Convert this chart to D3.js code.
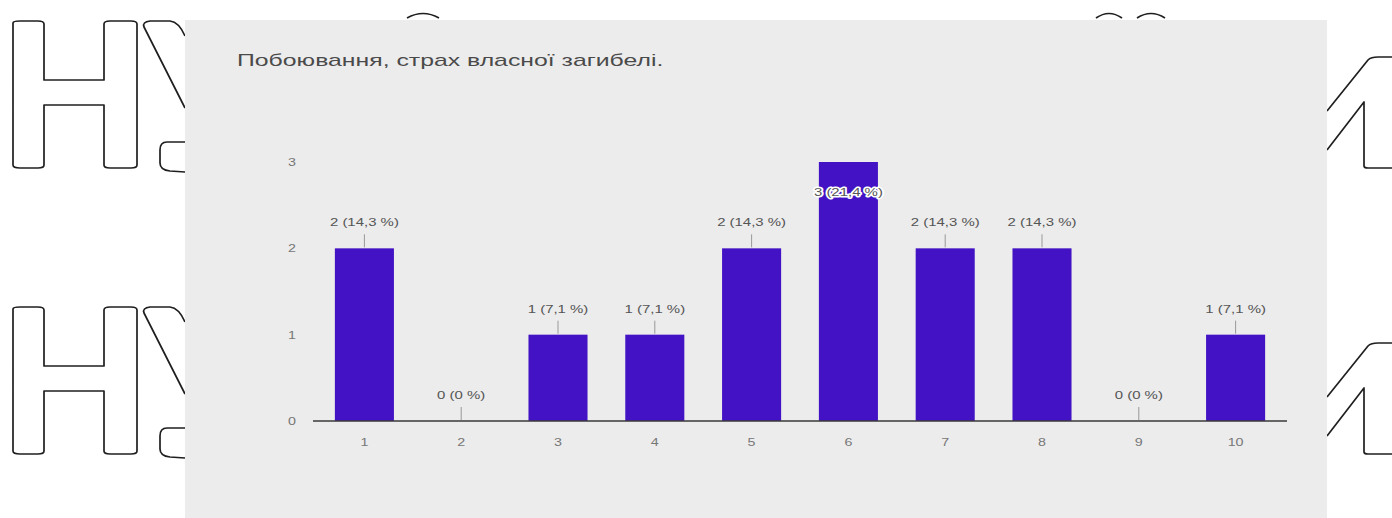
<!DOCTYPE html>
<html>
<head>
<meta charset="utf-8">
<script src="https://cdn.jsdelivr.net/npm/d3@7"></script>
<style>
  html, body { margin: 0; padding: 0; background: #ffffff; }
  svg { display: block; }
  text { font-family: "Liberation Sans", Arial, sans-serif; }
</style>
</head>
<body>
<svg id="chart" width="1392" height="518"></svg>
<script>
// Survey answers on a 1–10 scale
const categories = ["1", "2", "3", "4", "5", "6", "7", "8", "9", "10"];
const counts = [2, 0, 1, 1, 2, 3, 2, 2, 0, 1];
const yTicks = [0, 1, 2, 3];
const title = "Побоювання, страх власної загибелі.";

const W = 1392, H = 518;
const svg = d3.select("#chart");

// Outlined watermark letters behind the card
const wm = svg.append("g")
  .attr("fill", "none")
  .attr("stroke", "#1f1f1f")
  .attr("stroke-width", 1.7)
  .attr("stroke-linejoin", "round");

function letterH(dy) {
  return `M13,${23 + dy} Q13,${21 + dy} 20,${21 + dy} L38,${21 + dy} Q44,${21 + dy} 44,${24 + dy} L44,${80 + dy} L104,${80 + dy} L104,${24 + dy} Q104,${21 + dy} 110,${21 + dy} L131,${21 + dy} Q137,${21 + dy} 137,${24 + dy} L137,${165 + dy} Q137,${168 + dy} 131,${168 + dy} L110,${168 + dy} Q104,${168 + dy} 104,${165 + dy} L104,${105 + dy} L44,${105 + dy} L44,${165 + dy} Q44,${168 + dy} 38,${168 + dy} L20,${168 + dy} Q13,${168 + dy} 13,${165 + dy} Z`;
}
function letterU(dy) {
  return `M185,${108 + dy} L144,${27 + dy} Q142,${22 + dy} 150,${21 + dy} L170,${21 + dy} Q179,${22 + dy} 185,${36 + dy}`;
}
function letterHook(dy) {
  return `M185,${142 + dy} L167,${142 + dy} Q160,${142 + dy} 160,${150 + dy} L160,${163 + dy} Q160,${170 + dy} 170,${171 + dy} L185,${172 + dy}`;
}
function letterL(dy) {
  return `M1327,${111 + dy} L1368,${60 + dy} Q1371,${57 + dy} 1378,${57 + dy} L1395,${57 + dy} M1327,${150 + dy} L1364,${102 + dy} L1364,${166 + dy} Q1364,${168 + dy} 1368,${168 + dy} L1395,${168 + dy}`;
}
[0, 286].forEach(dy => {
  wm.append("path").attr("d", letterH(dy));
  wm.append("path").attr("d", letterU(dy));
  wm.append("path").attr("d", letterHook(dy));
  wm.append("path").attr("d", letterL(dy));
});
// small arcs peeking above the card
[[407, 439], [1096, 1122], [1137, 1165]].forEach(([a, b]) => {
  wm.append("path").attr("d", `M${a},18 Q${(a + b) / 2},9 ${b},18`);
});

// Card
svg.append("rect")
  .attr("x", 185).attr("y", 20)
  .attr("width", 1142).attr("height", H - 20)
  .attr("fill", "#ececec");

const SX = 1.3; // horizontally widened lettering
function label(g, x, y, txt, opts = {}) {
  const t = g.append("text")
    .attr("transform", `translate(${x},${y}) scale(${opts.sx || SX},1)`)
    .attr("text-anchor", opts.anchor || "middle")
    .attr("font-size", opts.size || 11)
    .attr("fill", opts.fill || "#666")
    .text(txt);
  return t;
}

// Title
label(svg, 237, 66, title, { anchor: "start", size: 16, sx: 1.55, fill: "#4a4a4a" });

// Scales
const x = d3.scaleBand()
  .domain(categories)
  .range([316, 1284])
  .paddingInner(0.39)
  .paddingOuter(0.195);

const y = d3.scaleLinear()
  .domain([0, 3])
  .range([421, 162]);

const plot = svg.append("g");

// Y tick labels
yTicks.forEach(t => {
  label(plot, 292, y(t) + 4, String(t), { fill: "#777" });
});

// Bars
const total = d3.sum(counts);
const data = categories.map((c, i) => ({ c, v: counts[i] }));

plot.selectAll("rect.bar")
  .data(data.filter(d => d.v > 0))
  .join("rect")
  .attr("class", "bar")
  .attr("x", d => x(d.c))
  .attr("y", d => y(d.v))
  .attr("width", x.bandwidth())
  .attr("height", d => y(0) - y(d.v))
  .attr("fill", "#4212c4");

// Baseline
plot.append("line")
  .attr("x1", 313).attr("x2", 1287)
  .attr("y1", y(0)).attr("y2", y(0))
  .attr("stroke", "#3a3a3a")
  .attr("stroke-width", 1.5);

// X tick labels
categories.forEach(c => {
  label(plot, x(c) + x.bandwidth() / 2, 446, c, { fill: "#777" });
});

// Value annotations: "n (p %)"
const pctFmt = p => p === 0 ? "0" : d3.format(".1f")(p).replace(".", ",");
data.forEach(d => {
  const cx = x(d.c) + x.bandwidth() / 2;
  const top = y(d.v);
  const txt = `${d.v} (${pctFmt(d.v / total * 100)} %)`;
  const inside = top - 26 < y(3);
  if (!inside) {
    plot.append("line")
      .attr("x1", cx).attr("x2", cx)
      .attr("y1", top - 14).attr("y2", top - 1)
      .attr("stroke", "#999").attr("stroke-width", 1);
    label(plot, cx, top - 22, txt, { fill: "#555", size: 11.5 });
  } else {
    label(plot, cx, top + 34, txt, { fill: "#555", size: 11.5 })
      .attr("stroke", "#ffffff")
      .attr("stroke-width", 3)
      .attr("paint-order", "stroke")
      .attr("stroke-linejoin", "round");
  }
});
</script>
</body>
</html>
